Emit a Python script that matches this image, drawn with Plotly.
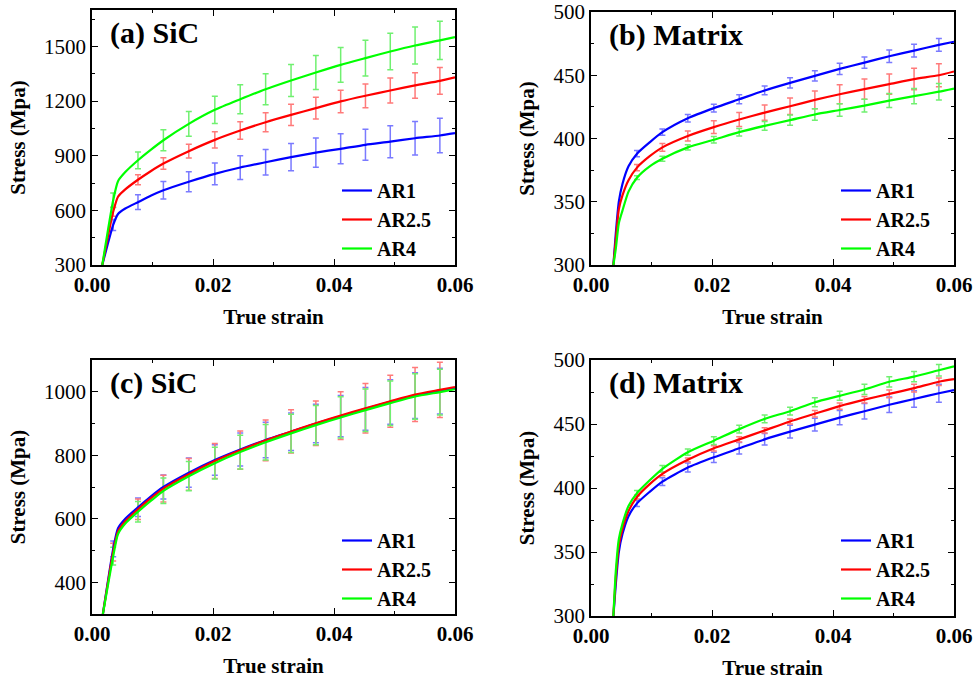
import plotly.graph_objects as go

# ---------------- data ----------------
series_names = ["AR1", "AR2.5", "AR4"]
series_colors = ["#0000FF", "#FF0000", "#00FF00"]
bar_colors = ["#7a7aff", "#ff7a7a", "#70f070"]

# (a) SiC
strain_a = [0.0017, 0.0035, 0.0043, 0.0055, 0.0076, 0.0097, 0.0118, 0.016, 0.0203, 0.0245,
            0.0287, 0.0329, 0.037, 0.0411, 0.0452, 0.0493, 0.0534, 0.0575, 0.06]
stress_a_ar1 = [300, 520, 580, 610, 645, 680, 710, 757, 800, 835, 864, 892, 917, 938, 960, 977, 996, 1011, 1024]
stress_a_ar25 = [300, 592, 675, 715, 768, 815, 857, 925, 987, 1038, 1084, 1124, 1161, 1198, 1229, 1258, 1286, 1311, 1330]
stress_a_ar4 = [300, 655, 760, 810, 875, 932, 985, 1075, 1152, 1210, 1265, 1313, 1357, 1399, 1436, 1472, 1505, 1533, 1551]
err_strain_a = [0.0035, 0.0076, 0.0118, 0.016, 0.0203, 0.0245, 0.0287, 0.0329, 0.037, 0.0411,
                0.0452, 0.0493, 0.0534, 0.0575]
err_a_ar1 = [30, 40, 48, 55, 60, 65, 70, 75, 80, 82, 85, 88, 92, 95]
err_a_ar25 = [25, 28, 32, 38, 45, 48, 52, 58, 60, 62, 65, 68, 70, 73]
err_a_ar4 = [40, 46, 58, 68, 75, 80, 85, 88, 93, 95, 98, 100, 102, 105]

# (b) Matrix
strain_b = [0.0037, 0.0041, 0.0046, 0.0052, 0.0062, 0.0076, 0.0097, 0.0118, 0.016, 0.0203,
            0.0245, 0.0287, 0.0329, 0.037, 0.0411, 0.0452, 0.0493, 0.0534, 0.0575, 0.06]
stress_b_ar1 = [300, 325, 350, 364, 378, 388, 397, 405, 416, 424, 431, 438, 444, 449.5, 455, 460, 465, 469.5, 474, 476.5]
stress_b_ar25 = [300, 320, 344, 355, 367, 377, 386, 393, 402, 409, 415, 420.5, 425.5, 430.5, 435, 439, 443, 447, 450, 453]
stress_b_ar4 = [300, 313, 333, 343, 358, 369, 378, 384, 393, 399, 405, 410, 414.5, 419, 422.5, 426, 430, 433.5, 437, 439.5]
err_strain_b = [0.0076, 0.0118, 0.016, 0.0203, 0.0245, 0.0287, 0.0329, 0.037, 0.0411,
                0.0452, 0.0493, 0.0534, 0.0575]
err_b_ar1 = [2.5, 2.5, 3, 3, 3.5, 3.5, 4, 4, 4.5, 4.5, 5, 5, 5]
err_b_ar25 = [2.5, 3, 4, 5, 5.5, 6, 6.5, 7, 7.5, 8, 8, 8.5, 9]
err_b_ar4 = [1.5, 2, 2, 2.5, 3, 3.5, 4, 4.5, 5, 5, 5.5, 6, 6.5]

# (c) SiC
strain_c = [0.0018, 0.0035, 0.0043, 0.0055, 0.0076, 0.0097, 0.0118, 0.016, 0.0203, 0.0245,
            0.0287, 0.0329, 0.037, 0.0411, 0.0452, 0.0493, 0.0534, 0.0575, 0.06]
stress_c_ar1 = [300, 505, 570, 600, 636, 670, 700, 745, 785, 818, 848, 874, 900, 923, 946, 968, 988, 1002, 1011]
stress_c_ar25 = [300, 495, 560, 592, 630, 664, 695, 740, 782, 816, 847, 875, 901, 925, 948, 970, 991, 1006, 1015]
stress_c_ar4 = [300, 482, 552, 585, 622, 656, 688, 734, 775, 810, 841, 869, 895, 919, 942, 964, 985, 999, 1008]
err_strain_c = [0.0035, 0.0076, 0.0118, 0.016, 0.0203, 0.0245, 0.0287, 0.0329, 0.037, 0.0411,
                0.0452, 0.0493, 0.0534, 0.0575]
err_c_ar1 = [25, 29, 38, 46, 48, 52, 56, 59, 61, 65, 67, 70, 72, 72]
err_c_ar25 = [28, 32, 42, 50, 55, 60, 64, 68, 70, 75, 78, 82, 85, 87]
err_c_ar4 = [28, 32, 40, 46, 50, 53, 56, 60, 62, 65, 67, 70, 72, 72]

# (d) Matrix
strain_d = [0.0037, 0.0041, 0.0046, 0.0052, 0.0062, 0.0076, 0.0097, 0.0118, 0.016, 0.0203,
            0.0245, 0.0287, 0.0329, 0.037, 0.0411, 0.0452, 0.0493, 0.0534, 0.0575, 0.06]
stress_d_ar1 = [300, 325, 350, 364, 378, 388, 397, 405, 416, 424, 431, 438, 444, 449.5, 455, 460, 465, 469.5, 474, 476.5]
stress_d_ar25 = [300, 330, 355, 368, 382, 393, 403, 411, 422, 431, 438, 445, 452, 458, 464, 469, 473.5, 478, 483, 485]
stress_d_ar4 = [300, 335, 360, 372, 386, 396, 406, 415, 428, 437, 446, 454, 460, 467, 472, 477, 483, 487, 492, 495]
err_strain_d = [0.0076, 0.0118, 0.016, 0.0203, 0.0245, 0.0287, 0.0329, 0.037, 0.0411,
                0.0452, 0.0493, 0.0534, 0.0575]
err_d_ar1 = [2.5, 3, 3.5, 4, 4.5, 4.5, 5, 5, 5.5, 6, 6, 6.5, 7]
err_d_ar25 = [1.5, 1.5, 1.5, 2, 2, 2, 2, 2.5, 2.5, 2.5, 3, 3, 3]
err_d_ar4 = [2, 2.5, 2.5, 3, 3, 3, 3, 3.5, 3.5, 4, 4, 4, 4.5]

panel_labels = ["(a) SiC", "(b) Matrix", "(c) SiC", "(d) Matrix"]
x_ticks = [0.0, 0.02, 0.04, 0.06]

# ---------------- layout helpers ----------------
W, H = 975, 680
FONT = "Liberation Serif"

panels = [
    dict(strain=strain_a, stress=[stress_a_ar1, stress_a_ar25, stress_a_ar4],
         ex=err_strain_a, err=[err_a_ar1, err_a_ar25, err_a_ar4],
         yr=[300, 1700], tick0=300, dtick=300, minor=150, box=(92, 455, 10, 265), leg=(337, 171)),
    dict(strain=strain_b, stress=[stress_b_ar1, stress_b_ar25, stress_b_ar4],
         ex=err_strain_b, err=[err_b_ar1, err_b_ar25, err_b_ar4],
         yr=[300, 500], tick0=300, dtick=50, minor=25, box=(591, 954, 12, 265), leg=(836, 171)),
    dict(strain=strain_c, stress=[stress_c_ar1, stress_c_ar25, stress_c_ar4],
         ex=err_strain_c, err=[err_c_ar1, err_c_ar25, err_c_ar4],
         yr=[300, 1100], tick0=400, dtick=200, minor=100, box=(92, 455, 360, 614), leg=(337, 521)),
    dict(strain=strain_d, stress=[stress_d_ar1, stress_d_ar25, stress_d_ar4],
         ex=err_strain_d, err=[err_d_ar1, err_d_ar25, err_d_ar4],
         yr=[300, 500], tick0=300, dtick=50, minor=25, box=(591, 954, 360, 616), leg=(836, 521)),
]

fig = go.Figure()
layout = {}
annotations = []

for p_i, p in enumerate(panels):
    k = "" if p_i == 0 else str(p_i + 1)
    xa, ya = "x" + k, "y" + k
    leg_name = "legend" + k
    idx = [p["strain"].index(v) for v in p["ex"]]

    # error bars first so the curves sit on top
    for s_i in range(3):
        vals = p["stress"][s_i]
        fig.add_trace(go.Scatter(
            x=p["ex"], y=[vals[i] for i in idx], mode="markers",
            marker=dict(size=1, color="rgba(0,0,0,0)"),
            error_y=dict(type="data", array=p["err"][s_i], color=bar_colors[s_i],
                         thickness=1.5, width=3),
            xaxis=xa, yaxis=ya, showlegend=False, hoverinfo="skip"))
    for s_i in range(3):
        fig.add_trace(go.Scatter(
            x=p["strain"], y=p["stress"][s_i], mode="lines", name=series_names[s_i],
            line=dict(color=series_colors[s_i], width=2.2, shape="spline", smoothing=0.6),
            xaxis=xa, yaxis=ya, legend=leg_name))

    x0, x1, y0, y1 = p["box"]
    axis_common = dict(showgrid=False, zeroline=False, showline=True, linecolor="black",
                       linewidth=1.6, mirror="allticks", ticks="inside", ticklen=6,
                       tickwidth=1.4, tickcolor="black", automargin=False,
                       ticklabeloverflow="allow",
                       tickfont=dict(family=FONT, size=21, color="black"))
    layout["xaxis" + k] = dict(
        axis_common, domain=[x0 / W, x1 / W], anchor=ya, range=[0, 0.06],
        tickmode="array", tickvals=x_ticks, ticktext=[f"<b>{v:.2f}</b>" for v in x_ticks],
        minor=dict(dtick=0.01, tick0=0, ticks="inside", ticklen=3, tickcolor="black", tickwidth=1.2),
        title=dict(text="<b>True strain</b>", standoff=13,
                   font=dict(family=FONT, size=21, color="black")))
    layout["yaxis" + k] = dict(
        axis_common, domain=[1 - y1 / H, 1 - y0 / H], anchor=xa, range=p["yr"],
        tick0=p["tick0"], dtick=p["dtick"],
        minor=dict(dtick=p["minor"], tick0=p["tick0"], ticks="inside", ticklen=3,
                   tickcolor="black", tickwidth=1.2),
        title=dict(text="<b>Stress (Mpa)</b>", standoff=13,
                   font=dict(family=FONT, size=21, color="black")))
    lx, ly = p["leg"]
    layout[leg_name] = dict(x=lx / W, y=1 - ly / H, xanchor="left", yanchor="top",
                            bgcolor="rgba(0,0,0,0)", tracegroupgap=0,
                            font=dict(family=FONT, size=20, color="black", weight="bold"))
    annotations.append(dict(text="<b>" + panel_labels[p_i] + "</b>", xref="paper", yref="paper",
                            x=(x0 + 16) / W, y=1 - (y0 + 23) / H, xanchor="left",
                            yanchor="middle", showarrow=False,
                            font=dict(family=FONT, size=30, color="black")))

fig.update_layout(**layout)
fig.update_layout(template="none", width=W, height=H, margin=dict(l=0, r=0, t=0, b=0),
                  paper_bgcolor="white", plot_bgcolor="white",
                  annotations=annotations, showlegend=True)

fig.write_html("out.html")
